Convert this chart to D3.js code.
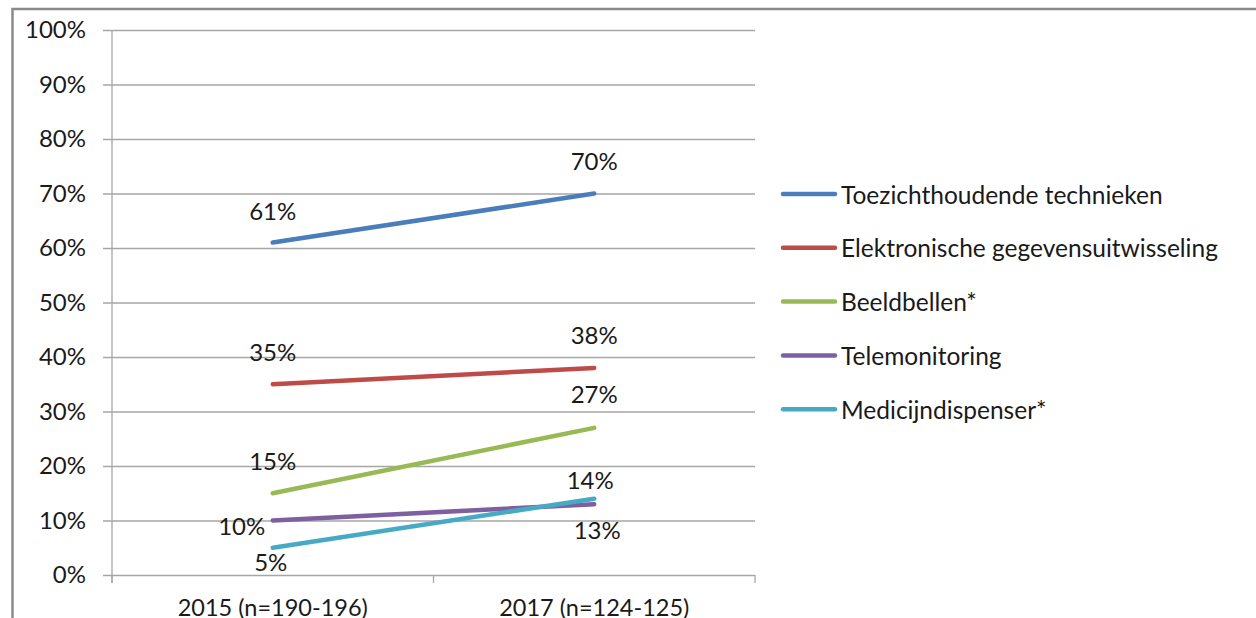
<!DOCTYPE html>
<html>
<head>
<meta charset="utf-8">
<script src="https://cdn.jsdelivr.net/npm/d3@7"></script>
<style>
  body { margin: 0; background: #fff; overflow: hidden; }
  svg { display: block; }
  text { font-family: Lato, "Liberation Sans", sans-serif; fill: #1a1a1a; }
</style>
</head>
<body>
<div id="chart"></div>
<script>
// data
const years = ["2015 (n=190-196)", "2017 (n=124-125)"];
const seriesNames = ["Toezichthoudende technieken", "Elektronische gegevensuitwisseling", "Beeldbellen*", "Telemonitoring", "Medicijndispenser*"];
const toezicht = [61, 70];
const elektronisch = [35, 38];
const beeldbellen = [15, 27];
const telemonitoring = [10, 13];
const medicijn = [5, 14];
const yTicks = [0, 10, 20, 30, 40, 50, 60, 70, 80, 90, 100];

const colors = ["#4a7ebb", "#be4b48", "#98b954", "#7d60a0", "#46aac5"];
// where the label sits relative to each point: [dx, dy] for 2015, 2017
const labelPos = [
    [[0, -32], [0, -33]],
    [[0, -33], [0, -33]],
    [[0, -33], [0, -34]],
    [[-31, 5], [3, 25]],
    [[-2, 14], [-4, -19]]
];

const series = [toezicht, elektronisch, beeldbellen, telemonitoring, medicijn].map((v, i) => ({
    name: seriesNames[i], values: v, color: colors[i], pos: labelPos[i]
}));

const width = 1256, height = 618;
const mLeft = 112, mRight = 755, mTop = 30, mBottom = 575;
const fs = "24px";

const svg = d3.select("#chart").append("svg")
    .attr("width", width)
    .attr("height", height);

// rahmen
svg.append("rect")
    .attr("x", 12.5).attr("y", 9)
    .attr("width", 1260).attr("height", 700)
    .attr("fill", "none")
    .attr("stroke", "#8a8a8a")
    .attr("stroke-width", 2.5);

const x = d3.scaleBand().domain(years).range([mLeft, mRight]);
const y = d3.scaleLinear().domain([0, 100]).range([mBottom, mTop]);

// gridlines + y axis
const yAxis = d3.axisLeft(y).tickValues(yTicks).tickFormat(d => d + "%")
    .tickSize(-(mRight - mLeft)).tickPadding(26);
const gy = svg.append("g").attr("transform", `translate(${mLeft},0)`).call(yAxis);
gy.select(".domain").remove();
gy.selectAll(".tick line").attr("x1", -9).attr("stroke", "#a6a6a6").attr("stroke-width", 1.3);
gy.selectAll(".tick text").style("font-size", fs).attr("fill", "#1a1a1a");

// vertical axis line
svg.append("line")
    .attr("x1", mLeft).attr("x2", mLeft)
    .attr("y1", mTop).attr("y2", mBottom + 8)
    .attr("stroke", "#a6a6a6").attr("stroke-width", 1.3);

// x axis
const gx = svg.append("g").attr("transform", `translate(0,${mBottom})`)
    .call(d3.axisBottom(x).tickSize(0).tickPadding(24));
gx.select(".domain").remove();
gx.selectAll(".tick text").style("font-size", "23.5px").attr("fill", "#1a1a1a");
[mLeft, mLeft + x.bandwidth(), mRight].forEach(t => {
    svg.append("line")
        .attr("x1", t).attr("x2", t)
        .attr("y1", mBottom).attr("y2", mBottom + 8)
        .attr("stroke", "#a6a6a6").attr("stroke-width", 1.3);
});

const cx = d => x(d) + x.bandwidth() / 2;
const line = d3.line().x((d, i) => cx(years[i])).y(d => y(d));

svg.selectAll(".serie")
    .data(series)
    .enter()
    .append("path")
    .attr("class", "serie")
    .attr("d", d => line(d.values))
    .attr("fill", "none")
    .attr("stroke", d => d.color)
    .attr("stroke-width", 4.5)
    .attr("stroke-linecap", "round");

// data labels
series.forEach(s => {
    s.values.forEach((v, i) => {
        svg.append("text")
            .attr("x", cx(years[i]) + s.pos[i][0])
            .attr("y", y(v) + s.pos[i][1])
            .attr("text-anchor", "middle")
            .attr("dominant-baseline", "central")
            .style("font-size", fs)
            .text(v + "%");
    });
});

// legende
const legend = svg.append("g").attr("transform", "translate(783,194)");
const rows = legend.selectAll("g")
    .data(series)
    .enter()
    .append("g")
    .attr("transform", (d, i) => `translate(0,${i * 53.8})`);
rows.append("line")
    .attr("x1", 0).attr("x2", 52)
    .attr("stroke", d => d.color)
    .attr("stroke-width", 4.5)
    .attr("stroke-linecap", "round");
rows.append("text")
    .attr("x", 58)
    .attr("dominant-baseline", "central")
    .style("font-size", "24.5px")
    .text(d => d.name);
</script>
</body>
</html>
